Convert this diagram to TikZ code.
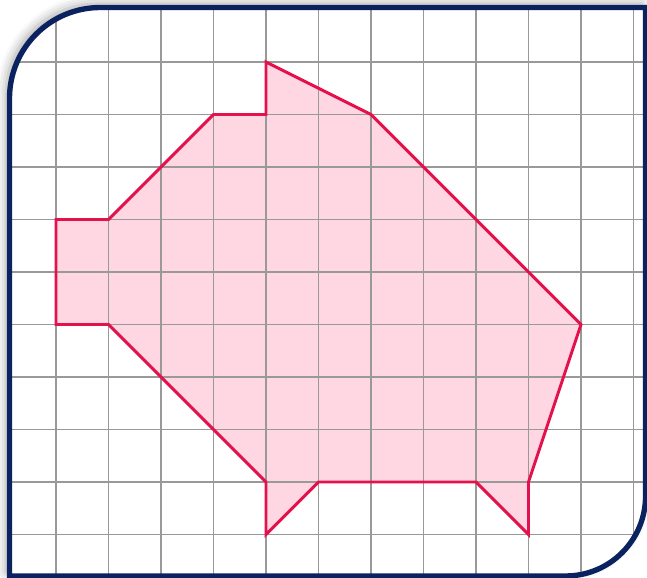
\documentclass[tikz,border=0pt]{standalone}
\usepackage{xcolor}
\usetikzlibrary{shadows.blur}
\definecolor{framenavy}{HTML}{0A2260}
\definecolor{pigline}{HTML}{E3124C}
\definecolor{pigfill}{HTML}{FFD7E3}
\begin{document}
\begin{tikzpicture}[
    gridline/.style={gray!80, line width=0.6pt},
    pigshape/.style={pigline, line width=1.6pt, line join=miter},
    frameline/.style={framenavy, line width=2.9pt}
  ]
  \useasboundingbox (-1.067,-0.810) rectangle (11.257,10.181);
  \def\framepath{(-0.886,-0.790) -- (-0.886,8.308) arc[start angle=180, end angle=90, radius=1.73]
    -- (11.229,10.038) -- (11.229,0.730) arc[start angle=0, end angle=-90, radius=1.52] -- cycle}
  \path[fill=white, blur shadow={shadow xshift=-2pt, shadow yshift=2pt, shadow blur radius=5pt, shadow opacity=35}] \framepath;
  \fill[pigfill] (0,6) -- (1,6) -- (3,8) -- (4,8) -- (4,9) -- (6,8) -- (10,4) -- (9,1) -- (9,0)
    -- (8,1) -- (5,1) -- (4,0) -- (4,1) -- (1,4) -- (0,4) -- cycle;
  \begin{scope}
    \clip \framepath;
    \draw[gridline] (-0.9,-0.8) grid (11.3,10.1);
  \end{scope}
  \draw[pigshape] (0,6) -- (1,6) -- (3,8) -- (4,8) -- (4,9) -- (6,8) -- (10,4) -- (9,1) -- (9,0)
    -- (8,1) -- (5,1) -- (4,0) -- (4,1) -- (1,4) -- (0,4) -- cycle;
  \draw[frameline] \framepath;
\end{tikzpicture}
\end{document}
